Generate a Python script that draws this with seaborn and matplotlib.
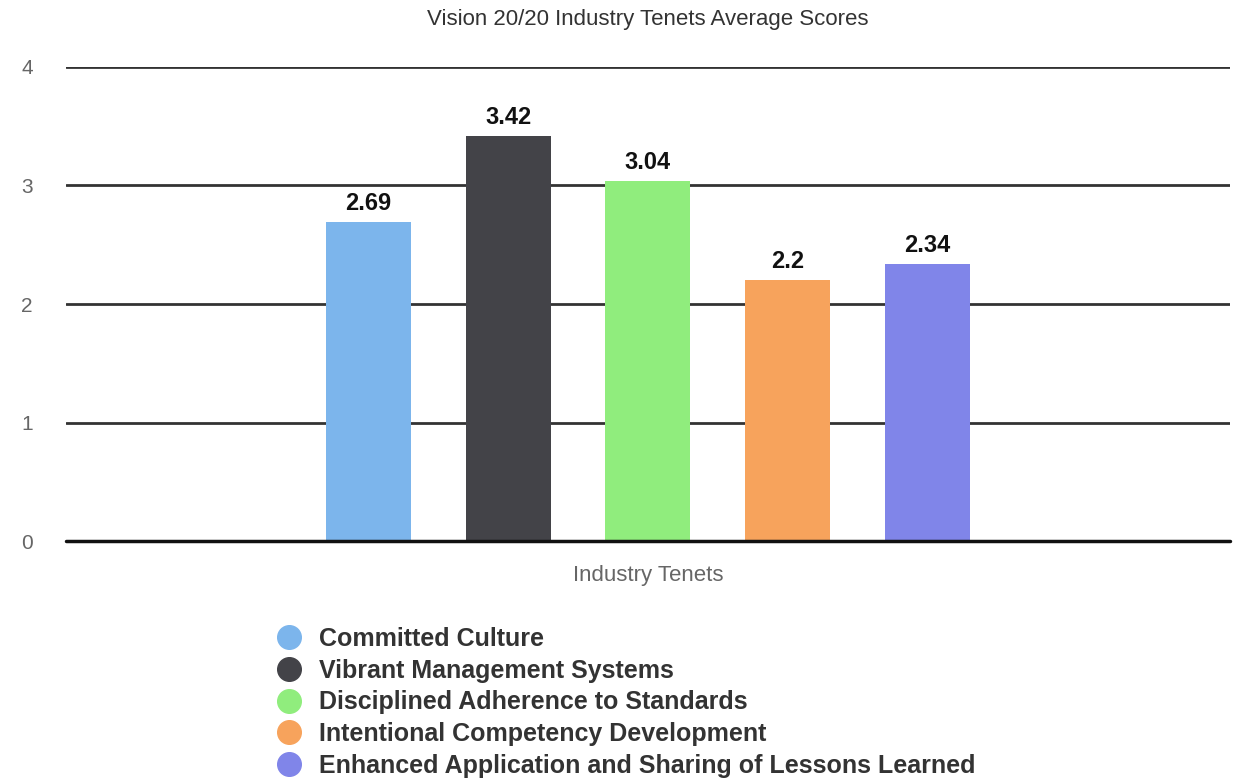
import pandas as pd
import seaborn as sns
import matplotlib.pyplot as plt
from matplotlib.lines import Line2D

# data
tenets = [
    "Committed Culture",
    "Vibrant Management Systems",
    "Disciplined Adherence to Standards",
    "Intentional Competency Development",
    "Enhanced Application and Sharing of Lessons Learned",
]
scores = [2.69, 3.42, 3.04, 2.2, 2.34]
colors = ["#7cb5ec", "#434348", "#90ed7d", "#f7a35c", "#8085e9"]
category = "Industry Tenets"

df = pd.DataFrame({"category": [category] * len(tenets), "tenet": tenets, "score": scores})

sns.set_style("white")
plt.rcParams["font.family"] = ["Liberation Sans", "DejaVu Sans"]

fig = plt.figure(figsize=(12.38, 7.79), dpi=100)
ax = fig.add_axes([0.0533, 0.3055, 0.94, 0.6085])

sns.barplot(data=df, x="category", y="score", hue="tenet", hue_order=tenets,
            palette=colors, width=0.6, gap=0.39, legend=False, ax=ax,
            saturation=1, errorbar=None, linewidth=0, edgecolor="none")

for cont, v in zip(ax.containers, scores):
    ax.bar_label(cont, labels=[f"{v:g}"], padding=5, fontsize=17,
                 fontweight="bold", color="#111111")

ax.set_ylim(0, 4)
ax.set_xlim(-0.5, 0.5)
ax.set_yticks([0, 1, 2, 3, 4])
ax.yaxis.grid(True, color="#333333", linewidth=2)
ax.set_axisbelow(True)
for s in ax.spines.values():
    s.set_visible(False)
ax.axhline(0, color="#111111", linewidth=2.5, zorder=3, clip_on=False)
ax.tick_params(axis="y", length=0, labelsize=15, labelcolor="#666666", pad=24)
ax.set_xticks([])
ax.set_xlabel(category, fontsize=16, color="#666666", labelpad=17)
ax.set_ylabel("")
ax.set_title("Vision 20/20 Industry Tenets Average Scores", fontsize=16,
             color="#333333", pad=30)

handles = [Line2D([], [], marker="o", linestyle="", markersize=17,
                  markerfacecolor=c, markeredgecolor=c) for c in colors]
fig.legend(handles, tenets, loc="upper center", bbox_to_anchor=(0.501, 0.224),
           frameon=False, ncol=1, handletextpad=0.2, labelspacing=0.305,
           prop={"weight": "bold", "size": 18}, labelcolor="#333333",
           alignment="left")

fig.savefig("out.png", dpi=100)
